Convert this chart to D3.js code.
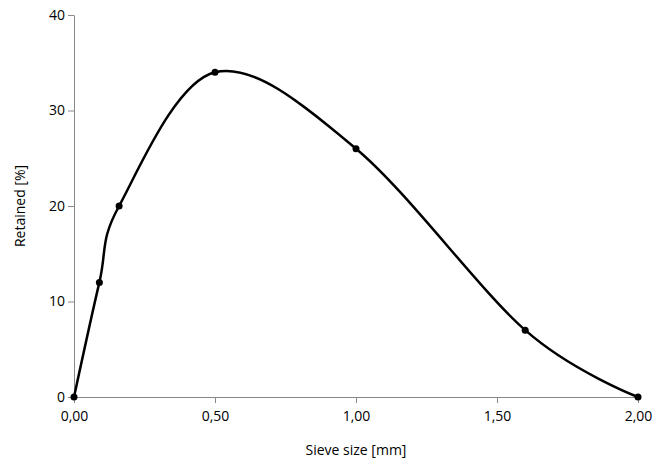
<!DOCTYPE html>
<html><head><meta charset="utf-8">
<script src="https://cdn.jsdelivr.net/npm/d3@7"></script>
<style>body{margin:0;background:#fff}text{font-family:"Open Sans",sans-serif;fill:#000}</style>
</head><body><div id="chart"></div>
<script>
var sieveSize = [0, 0.09, 0.16, 0.5, 1.0, 1.6, 2.0];
var retained = [0, 12, 20, 34, 26, 7, 0];
var xTicks = [0, 0.5, 1, 1.5, 2];
var yTicks = [0, 10, 20, 30, 40];

var svg = d3.select("#chart").append("svg").attr("width", 653).attr("height", 462);
var x = d3.scaleLinear().domain([0, 2]).range([74, 638]);
var y = d3.scaleLinear().domain([0, 40]).range([397, 15]);
var fmt = d3.format(".2f");

svg.append("g").attr("transform", "translate(0,397)")
  .call(d3.axisBottom(x).tickValues(xTicks).tickSizeOuter(0).tickFormat(d => fmt(d).replace(".", ",")))
  .call(g => g.selectAll("text").attr("font-size", 14).attr("dy", "1.1em"))
  .call(g => g.selectAll("path,line").attr("stroke", "#888"));
svg.append("g").attr("transform", "translate(74,0)")
  .call(d3.axisLeft(y).tickValues(yTicks).tickSizeOuter(0))
  .call(g => g.selectAll("text").attr("font-size", 14))
  .call(g => g.selectAll("path,line").attr("stroke", "#888"));

var pts = sieveSize.map((s, i) => [s, retained[i]]);
svg.append("path").datum(pts)
  .attr("fill", "none").attr("stroke", "#000").attr("stroke-width", 2.5)
  .attr("d", d3.line().x(d => x(d[0])).y(d => y(d[1])).curve(d3.curveCardinal.tension(0)));
svg.selectAll("circle").data(pts).enter().append("circle")
  .attr("cx", d => x(d[0])).attr("cy", d => y(d[1])).attr("r", 3.5).attr("fill", "#000");

svg.append("text").attr("x", 356).attr("y", 455).attr("text-anchor", "middle").attr("font-size", 14).text("Sieve size [mm]");
svg.append("text").attr("transform", "translate(25,206) rotate(-90)").attr("text-anchor", "middle").attr("font-size", 14).text("Retained [%]");
</script></body></html>
